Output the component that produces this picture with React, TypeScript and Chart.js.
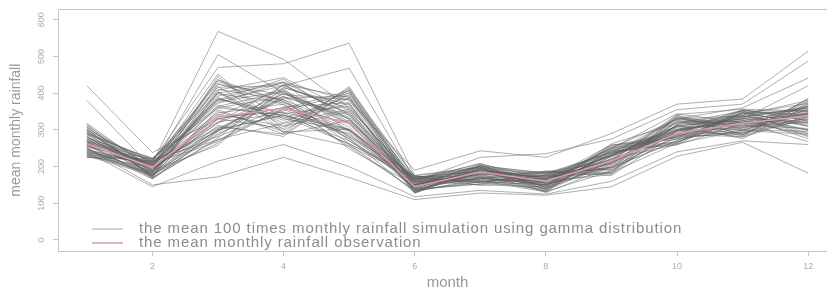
import { useEffect, useRef } from "react";
import { Chart, registerables } from "chart.js";

Chart.register(...registerables);

const FONT = '"Liberation Sans", Arial, sans-serif';

const MONTHS = [1, 2, 3, 4, 5, 6, 7, 8, 9, 10, 11, 12];
const X_TICKS = [2, 4, 6, 8, 10, 12];
const Y_TICKS = [0, 100, 200, 300, 400, 500, 600];
const X_TITLE = "month";
const Y_TITLE = "mean monthly rainfall";
const LEGEND_SIM = "the mean 100 times monthly rainfall simulation using gamma distribution";
const LEGEND_OBS = "the mean monthly rainfall observation";

const OBSERVED = [262, 198, 335, 358, 318, 145, 185, 160, 215, 290, 318, 338];

const SIMULATED_RUNS: number[][] = [
  [268, 182, 402, 318, 356, 141, 192, 150, 236, 281, 340, 300],
  [232, 214, 296, 412, 270, 168, 158, 176, 198, 322, 298, 356],
  [301, 176, 355, 288, 402, 132, 184, 162, 252, 266, 331, 322],
  [247, 203, 432, 376, 301, 159, 171, 134, 214, 338, 286, 372],
  [284, 168, 278, 424, 388, 147, 203, 181, 189, 297, 352, 281],
  [226, 221, 384, 336, 262, 175, 149, 158, 243, 259, 318, 344],
  [312, 195, 318, 398, 334, 128, 196, 143, 228, 312, 276, 366],
  [258, 172, 446, 292, 418, 154, 166, 188, 176, 290, 346, 290],
  [239, 208, 268, 356, 286, 171, 188, 139, 258, 274, 305, 378],
  [294, 186, 408, 442, 352, 138, 152, 170, 207, 330, 338, 310],
  [276, 224, 342, 310, 396, 162, 209, 152, 232, 301, 292, 336],
  [251, 166, 296, 384, 248, 149, 177, 184, 184, 264, 356, 352],
  [305, 199, 388, 326, 372, 135, 161, 131, 249, 344, 318, 268],
  [233, 180, 264, 408, 322, 166, 198, 166, 218, 286, 282, 386],
  [268, 217, 426, 368, 276, 152, 186, 148, 262, 318, 328, 318],
  [290, 173, 312, 282, 410, 173, 156, 178, 196, 270, 348, 342],
  [244, 210, 372, 430, 340, 130, 204, 142, 236, 332, 300, 296],
  [318, 190, 336, 348, 300, 158, 170, 186, 212, 296, 336, 362],
  [262, 202, 452, 300, 386, 144, 194, 136, 244, 280, 290, 328],
  [229, 176, 286, 392, 262, 169, 164, 160, 178, 316, 352, 350],
  [287, 192, 364, 404, 318, 137, 181, 173, 227, 307, 311, 304],
  [255, 209, 322, 344, 364, 161, 150, 145, 253, 287, 344, 372],
  [236, 184, 398, 374, 282, 176, 199, 129, 200, 326, 283, 338],
  [309, 170, 274, 318, 408, 146, 167, 181, 239, 268, 326, 284],
  [271, 219, 416, 420, 346, 133, 190, 154, 186, 340, 302, 360],
  [243, 188, 350, 296, 256, 167, 207, 167, 247, 300, 354, 326],
  [296, 177, 302, 386, 392, 155, 159, 139, 215, 276, 296, 376],
  [264, 212, 382, 438, 328, 142, 183, 186, 192, 314, 338, 298],
  [227, 199, 438, 330, 298, 172, 174, 150, 257, 292, 308, 348],
  [282, 181, 290, 362, 374, 127, 195, 163, 221, 260, 346, 318],
  [259, 207, 376, 406, 280, 164, 162, 175, 181, 334, 288, 356],
  [301, 174, 330, 304, 414, 149, 206, 137, 245, 284, 322, 290],
  [238, 215, 410, 382, 308, 139, 153, 168, 210, 320, 340, 380],
  [274, 189, 258, 416, 358, 170, 187, 146, 233, 305, 280, 334],
  [252, 222, 360, 340, 270, 157, 201, 183, 197, 271, 350, 310],
  [315, 169, 424, 396, 382, 131, 168, 156, 251, 328, 312, 364],
  [266, 204, 308, 288, 326, 163, 179, 132, 188, 296, 334, 276],
  [231, 182, 392, 428, 294, 151, 197, 179, 238, 262, 300, 346],
  [293, 213, 282, 352, 400, 174, 160, 149, 216, 342, 356, 324],
  [248, 178, 346, 370, 254, 136, 185, 171, 230, 288, 292, 370],
  [279, 198, 418, 310, 350, 160, 173, 140, 204, 312, 324, 300],
  [261, 168, 298, 400, 316, 145, 193, 165, 259, 278, 342, 354],
  [234, 211, 366, 332, 388, 168, 156, 185, 193, 336, 306, 330],
  [307, 186, 436, 378, 276, 129, 202, 153, 226, 298, 286, 384],
  [256, 194, 320, 422, 344, 156, 166, 133, 241, 264, 348, 312],
  [288, 220, 272, 358, 406, 142, 189, 172, 183, 324, 316, 342],
  [242, 175, 404, 294, 302, 171, 176, 158, 249, 282, 334, 360],
  [270, 205, 338, 414, 368, 150, 199, 144, 207, 310, 298, 288],
  [298, 183, 384, 346, 260, 134, 158, 177, 234, 290, 352, 338],
  [225, 216, 304, 390, 330, 165, 192, 161, 220, 330, 320, 366],
  [420, 238, 330, 360, 300, 150, 180, 160, 210, 300, 320, 340],
  [380, 196, 300, 340, 290, 140, 170, 150, 200, 280, 310, 320],
  [300, 210, 568, 492, 360, 160, 190, 170, 230, 310, 330, 350],
  [260, 200, 505, 400, 330, 150, 185, 155, 220, 290, 315, 335],
  [280, 215, 470, 480, 536, 175, 195, 165, 230, 300, 325, 345],
  [270, 205, 380, 420, 468, 165, 200, 175, 240, 310, 335, 360],
  [250, 150, 172, 225, 170, 110, 128, 122, 145, 228, 266, 182],
  [240, 145, 215, 260, 200, 118, 135, 125, 160, 240, 270, 260],
  [290, 220, 400, 430, 380, 190, 243, 225, 290, 370, 384, 514],
  [275, 205, 360, 390, 340, 160, 225, 235, 275, 355, 370, 487],
  [265, 190, 330, 360, 320, 150, 180, 165, 230, 330, 360, 441],
  [245, 185, 300, 340, 300, 140, 170, 150, 210, 300, 330, 420],
];

const SIM_COLOR = "rgba(95, 95, 95, 0.5)";
const OBS_COLOR = "#e09aaa";
const AXIS_COLOR = "#c6c6c6";

const boxAndLegend = {
  id: "boxAndLegend",
  afterDraw(chart: any) {
    const { ctx, chartArea } = chart;
    ctx.save();
    ctx.strokeStyle = AXIS_COLOR;
    ctx.lineWidth = 1;
    ctx.strokeRect(
      Math.round(chartArea.left) + 0.5,
      Math.round(chartArea.top) + 0.5,
      Math.round(chartArea.right - chartArea.left),
      Math.round(chartArea.bottom - chartArea.top)
    );
    const entries = [
      { label: LEGEND_SIM, color: "#a8a8a8", width: 1 },
      { label: LEGEND_OBS, color: OBS_COLOR, width: 1.5 },
    ];
    ctx.font = `15px ${FONT}`;
    (ctx as any).letterSpacing = "0.9px";
    ctx.textBaseline = "middle";
    ctx.textAlign = "left";
    entries.forEach((e, i) => {
      const y = chartArea.bottom - 22 + i * 14;
      ctx.strokeStyle = e.color;
      ctx.lineWidth = e.width;
      ctx.beginPath();
      ctx.moveTo(chartArea.left + 34, y);
      ctx.lineTo(chartArea.left + 65, y);
      ctx.stroke();
      ctx.fillStyle = "#8c8c8c";
      ctx.fillText(e.label, chartArea.left + 81, y);
    });
    ctx.restore();
  },
};

export default function App() {
  const ref = useRef<HTMLCanvasElement | null>(null);

  useEffect(() => {
    if (!ref.current) return;
    const datasets: any[] = [
      {
        label: LEGEND_OBS,
        data: MONTHS.map((m, i) => ({ x: m, y: OBSERVED[i] })),
        borderColor: OBS_COLOR,
        borderWidth: 1.6,
        pointRadius: 0,
        tension: 0,
        fill: false,
      },
      ...SIMULATED_RUNS.map((run, k) => ({
        label: `sim ${k + 1}`,
        data: MONTHS.map((m, i) => ({ x: m, y: run[i] })),
        borderColor: SIM_COLOR,
        borderWidth: 1,
        pointRadius: 0,
        tension: 0,
        fill: false,
      })),
    ];

    const chart = new Chart(ref.current, {
      type: "line",
      data: { datasets },
      options: {
        animation: false,
        responsive: false,
        maintainAspectRatio: false,
        layout: { padding: { left: 0, right: 8, top: 8, bottom: 0 } },
        plugins: { legend: { display: false }, tooltip: { enabled: false } },
        scales: {
          x: {
            type: "linear",
            min: 0.56,
            max: 12.44,
            afterBuildTicks: (s: any) => {
              s.ticks = X_TICKS.map((v) => ({ value: v }));
            },
            afterFit: (s: any) => {
              s.height = 39;
            },
            grid: {
              display: true,
              drawOnChartArea: false,
              drawTicks: true,
              tickLength: 5,
              color: AXIS_COLOR,
              tickColor: AXIS_COLOR,
            },
            border: { display: false },
            ticks: {
              font: { family: FONT, size: 9 },
              color: "#ababab",
              padding: 5,
              maxRotation: 0,
              autoSkip: false,
            },
            title: {
              display: true,
              text: X_TITLE,
              font: { family: FONT, size: 15, lineHeight: 1 },
              color: "#999999",
              padding: { top: 0, bottom: 0 },
            },
          },
          y: {
            type: "linear",
            min: -30,
            max: 628,
            afterBuildTicks: (s: any) => {
              s.ticks = Y_TICKS.map((v) => ({ value: v }));
            },
            afterFit: (s: any) => {
              s.width = 58;
            },
            grid: {
              display: true,
              drawOnChartArea: false,
              drawTicks: true,
              tickLength: 5,
              color: AXIS_COLOR,
              tickColor: AXIS_COLOR,
            },
            border: { display: false },
            ticks: {
              font: { family: FONT, size: 9 },
              color: "#ababab",
              padding: 4,
              minRotation: 90,
              maxRotation: 90,
              crossAlign: "center",
              autoSkip: false,
            },
            title: {
              display: true,
              text: Y_TITLE,
              font: { family: FONT, size: 14, lineHeight: 1 },
              color: "#999999",
              padding: { top: 9, bottom: 0 },
            },
          },
        },
      },
      plugins: [boxAndLegend],
    } as any);

    return () => chart.destroy();
  }, []);

  return (
    <div
      style={{
        position: "fixed",
        left: 0,
        top: 0,
        width: 827,
        height: 290,
        overflow: "hidden",
        background: "#ffffff",
      }}
    >
      <canvas ref={ref} width={845} height={290} style={{ width: 845, height: 290, display: "block" }} />
    </div>
  );
}
